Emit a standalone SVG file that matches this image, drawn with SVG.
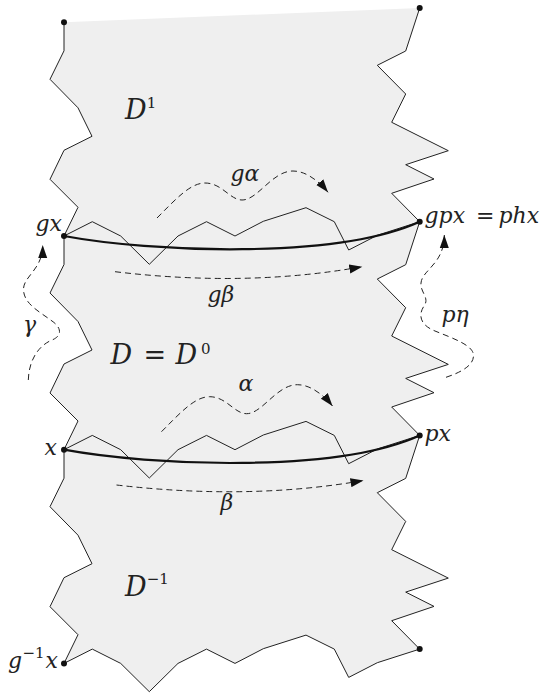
<svg xmlns="http://www.w3.org/2000/svg" width="543" height="694" viewBox="0 0 543 694">
<style>
.edge{fill:none;stroke:#222;stroke-width:1;stroke-linejoin:miter}
.geo{fill:none;stroke:#111;stroke-width:2.2}
.dash{fill:none;stroke:#222;stroke-width:1;stroke-dasharray:6 4}
.lbl{font-style:italic;font-size:22px;fill:#222}
.big{font-style:italic;font-size:27px;fill:#222}
.up{font-style:normal}
.sup{font-style:normal;font-size:15px;fill:#222}
.dot{fill:#111}
</style>
<defs>
<marker id="ah" markerWidth="14" markerHeight="10" refX="13" refY="5" orient="auto" markerUnits="userSpaceOnUse">
<path d="M0,0.5 L13,5 L0,9.5 z" fill="#111" stroke="none"/>
</marker>
</defs>

<g id="region">
<path fill="#efefef" stroke="none" d="M64,22.3 L419.7,8 L405.7,51 L377.3,65.3 L405.7,94 L391.7,122.3 L448.3,150.7 L405.7,164.7 L434,179 L391.7,193.3 L419.7,221.7 L405.7,264.7 L377.3,279 L405.7,307.7 L391.7,336 L448.3,364.4 L405.7,378.4 L434,392.7 L391.7,407 L419.7,435.4 L405.7,478.4 L377.3,492.7 L405.7,521.4 L391.7,549.7 L448.3,578.1 L405.7,592.1 L434,606.4 L391.7,620.7 L419.7,649.1 L377.3,662.7 L348.7,677.4 L334.3,649.1 L306,635.1 L263.3,648.7 L235,663.4 L206.5,649.1 L178,663.4 L149.3,691.7 L120.7,663.4 L92.3,649.1 L64,663.4 L78,634.7 L50,606.7 L64,577.7 L92,563.7 L78,535.2 L50,506.7 L64,478.2 L64,449.7 L78,421 L50,393 L64,364 L92,350 L78,321.5 L50,293 L64,264.5 L64,236 L78,207.3 L50,179.3 L64,150.3 L92,136.3 L78,107.8 L50,79.3 L64,50.8 Z"/>
</g>

<g id="boundaries">
<polyline class="edge" points="64,22.3 64,50.8 50,79.3 78,107.8 92,136.3 64,150.3 50,179.3 78,207.3 64,236 64,264.5 50,293 78,321.5 92,350 64,364 50,393 78,421 64,449.7 64,478.2 50,506.7 78,535.2 92,563.7 64,577.7 50,606.7 78,634.7 64,663.4"/>
<polyline class="edge" points="419.7,8 405.7,51 377.3,65.3 405.7,94 391.7,122.3 448.3,150.7 405.7,164.7 434,179 391.7,193.3 419.7,221.7 405.7,264.7 377.3,279 405.7,307.7 391.7,336 448.3,364.4 405.7,378.4 434,392.7 391.7,407 419.7,435.4 405.7,478.4 377.3,492.7 405.7,521.4 391.7,549.7 448.3,578.1 405.7,592.1 434,606.4 391.7,620.7 419.7,649.1"/>
<polyline class="edge" points="64,236 92.3,221.7 120.7,236 149.3,264.3 178,236 206.5,221.7 235,236 263.3,221.3 306,207.7 334.3,221.7 348.7,250 377.3,235.3 419.7,221.7"/>
<polyline class="edge" points="64,449.7 92.3,435.4 120.7,449.7 149.3,478 178,449.7 206.5,435.4 235,449.7 263.3,435 306,421.4 334.3,435.4 348.7,463.7 377.3,449 419.7,435.4"/>
<polyline class="edge" points="64,663.4 92.3,649.1 120.7,663.4 149.3,691.7 178,663.4 206.5,649.1 235,663.4 263.3,648.7 306,635.1 334.3,649.1 348.7,677.4 377.3,662.7 419.7,649.1"/>
</g>

<g id="geodesics">
<path class="geo" d="M64,236 C150,252 335,260 419.7,221.7"/>
<path class="geo" d="M64,449.7 C150,465.7 335,473.7 419.7,435.4"/>
</g>

<g id="connectors">
<path id="g-alpha" class="dash" marker-end="url(#ah)" d="M157,218 C175,200 190,183 205,183 C222,183 230,200 242,200 C258,200 272,171 293,171 C305,171 318,180 328,192.3"/>
<path id="alpha" class="dash" marker-end="url(#ah)" d="M161.5,431.7 C179.5,413.7 194.5,396.7 209.5,396.7 C226.5,396.7 234.5,413.7 246.5,413.7 C262.5,413.7 276.5,384.7 297.5,384.7 C309.5,384.7 322.5,393.7 332.5,406"/>
<path id="g-beta" class="dash" marker-end="url(#ah)" d="M115,271.7 Q247,287.4 362.3,266.7"/>
<path id="beta" class="dash" marker-end="url(#ah)" d="M116.5,485 Q249,500.5 363.5,480.5"/>
<path id="gamma" class="dash" marker-end="url(#ah)" d="M28.3,380 C29,358 40,345 52,340 C62,336 62,328 52,321 C40,312 24,304 23.5,290 C23,276 42.7,270 42.7,245"/>
<path id="p-eta" class="dash" marker-end="url(#ah)" d="M446,377.3 C462,372 474,365 473.5,355 C473,345 452,338 435,331 C420,325 418,315 424,306 C430,298 420,292 421,283 C422,270 444.3,264 444.3,235"/>
</g>

<g id="points">
<circle id="p-top-left" class="dot" cx="64" cy="22.3" r="3"/>
<circle id="p-top-right" class="dot" cx="419.7" cy="8" r="3"/>
<circle id="p-gx" class="dot" cx="64" cy="236" r="3"/>
<circle id="p-gpx" class="dot" cx="419.7" cy="221.7" r="3"/>
<circle id="p-x" class="dot" cx="64" cy="449.7" r="3"/>
<circle id="p-px" class="dot" cx="419.7" cy="435.4" r="3"/>
<circle id="p-ginvx" class="dot" cx="64" cy="663.4" r="3"/>
<circle id="p-bottom-right" class="dot" cx="419.7" cy="649.1" r="3"/>
</g>

<g id="labels" font-family="'DejaVu Serif', 'Liberation Serif', serif">
<text id="l-D1" class="big" x="125" y="119">D<tspan class="sup" dy="-11">1</tspan></text>
<text id="l-D0" class="big" y="364.3"><tspan x="110.5">D</tspan><tspan class="up" x="143.5">=</tspan><tspan x="175.5">D</tspan><tspan class="sup" x="201" dy="-10.3">0</tspan></text>
<text id="l-Dm1" class="big" x="125" y="596">D<tspan class="sup" dy="-12">−1</tspan></text>
<text id="l-gx" class="lbl" x="35.5" y="230.7">gx</text>
<text id="l-x" class="lbl" x="44.5" y="455">x</text>
<text id="l-ginvx" class="lbl" y="668.3"><tspan x="8">g</tspan><tspan class="sup" x="22.5" dy="-10">−1</tspan><tspan x="45.5" dy="10">x</tspan></text>
<text id="l-gpx" class="lbl" y="223"><tspan x="424.5">gpx</tspan><tspan class="up" x="476">=</tspan><tspan x="498.5">phx</tspan></text>
<text id="l-px" class="lbl" x="424.5" y="440.7">px</text>
<text id="l-galpha" class="lbl" x="230.5" y="181">gα</text>
<text id="l-gbeta" class="lbl" x="207.5" y="301.7">gβ</text>
<text id="l-alpha" class="lbl" x="238.5" y="390.7">α</text>
<text id="l-beta" class="lbl" x="220.5" y="510">β</text>
<text id="l-gamma" class="lbl" x="23" y="331.5">γ</text>
<text id="l-peta" class="lbl" x="441.5" y="322">pη</text>
</g>
</svg>
